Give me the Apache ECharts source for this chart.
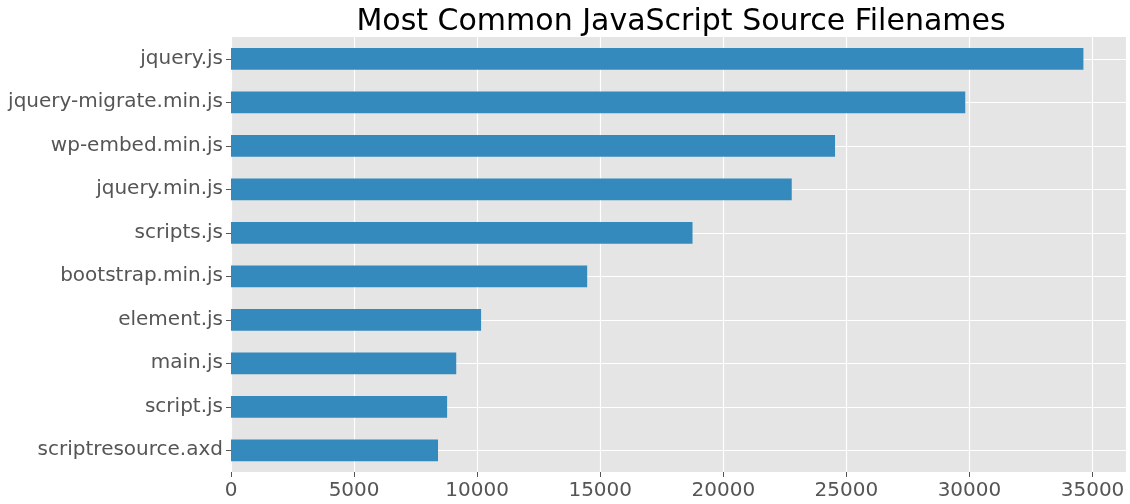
<!DOCTYPE html>
<html>
<head>
<meta charset="utf-8">
<script src="https://cdn.jsdelivr.net/npm/echarts@6/dist/echarts.min.js"></script>
<style>html,body{margin:0;padding:0;background:#fff;}#c{width:1130px;height:504px;}</style>
</head>
<body>
<div id="c"></div>
<script>
const categories = ["jquery.js","jquery-migrate.min.js","wp-embed.min.js","jquery.min.js","scripts.js","bootstrap.min.js","element.js","main.js","script.js","scriptresource.axd"];
const counts = [34630, 29830, 24540, 22780, 18750, 14470, 10160, 9150, 8780, 8410];
const xTicks = [0, 5000, 10000, 15000, 20000, 25000, 30000, 35000];
const xMax = 36360;

const chart = echarts.init(document.getElementById('c'), null, {renderer: 'canvas'});
chart.setOption({
  animation: false,
  backgroundColor: '#ffffff',
  title: {
    text: 'Most Common JavaScript Source Filenames',
    left: 676, top: 2, textAlign: 'center',
    textStyle: {fontFamily: 'DejaVu Sans', fontSize: 30, fontWeight: 'normal', color: '#000'}
  },
  grid: {left: 231, right: 4, top: 37, bottom: 32, containLabel: false,
         show: true, backgroundColor: '#E5E5E5', borderWidth: 0},
  xAxis: {
    type: 'value', min: 0, max: xMax, interval: 5000,
    axisLine: {show: false},
    axisTick: {show: true, length: 5, lineStyle: {color: '#555', width: 1}},
    axisLabel: {show: true, fontFamily: 'DejaVu Sans', fontSize: 20, color: '#555', margin: 9,
      showMaxLabel: false,
      formatter: v => xTicks.includes(v) ? String(v) : ''},
    splitLine: {show: true, lineStyle: {color: '#ffffff', width: 1.2}}
  },
  yAxis: {
    type: 'category', data: categories, inverse: true,
    axisLine: {show: false},
    axisTick: {show: true, length: 5, alignWithLabel: true, lineStyle: {color: '#555', width: 1}},
    axisLabel: {fontFamily: 'DejaVu Sans', fontSize: 20, color: '#555', margin: 8},
    splitLine: {show: false}
  },
  series: [{
    type: 'line', data: [], z: 1, silent: true,
    markLine: {
      silent: true, symbol: 'none', label: {show: false},
      lineStyle: {color: '#ffffff', width: 1.2, type: 'solid'},
      data: categories.map(c => ({yAxis: c}))
    }
  }, {
    type: 'bar', data: counts, barWidth: '50%',
    itemStyle: {color: '#348ABD'},
    z: 5
  }]
});
</script>
</body>
</html>
